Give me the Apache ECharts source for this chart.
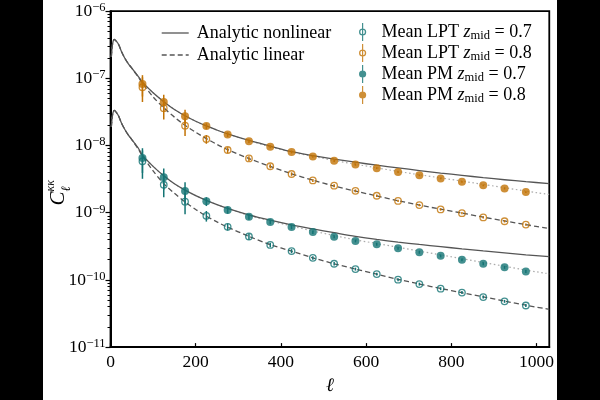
<!DOCTYPE html>
<html><head><meta charset="utf-8">
<script src="https://cdn.jsdelivr.net/npm/echarts@6/dist/echarts.min.js"></script>
<style>
html,body{margin:0;padding:0;background:#000;width:600px;height:400px;overflow:hidden}
#c{position:absolute;left:43px;top:0;width:514px;height:400px;background:#fff}
</style>
</head><body><div id="c"></div>
<script>
// ---- data ----
const ell = [75,125,175,225,275,325,375,425,475,525,575,625,675,725,775,825,875,925,975];
const pmZ08  = [8.27e-8,4.44e-8,2.73e-8,1.95e-8,1.46e-8,1.16e-8,9.6e-9,8.04e-9,6.87e-9,5.95e-9,5.21e-9,4.61e-9,4.03e-9,3.61e-9,3.24e-9,2.89e-9,2.56e-9,2.29e-9,2.03e-9];
const lptZ08 = [7.41e-8,3.60e-8,1.98e-8,1.25e-8,8.59e-9,6.43e-9,4.92e-9,3.77e-9,3.03e-9,2.53e-9,2.12e-9,1.79e-9,1.50e-9,1.30e-9,1.12e-9,9.85e-10,8.53e-10,7.47e-10,6.67e-10];
const pmZ07  = [6.52e-9,3.38e-9,2.10e-9,1.48e-9,1.10e-9,8.71e-10,7.30e-10,6.12e-10,5.15e-10,4.39e-10,3.81e-10,3.40e-10,2.97e-10,2.58e-10,2.28e-10,1.99e-10,1.74e-10,1.54e-10,1.34e-10];
const lptZ07 = [5.82e-9,2.61e-9,1.46e-9,9.0e-10,6.18e-10,4.43e-10,3.32e-10,2.69e-10,2.13e-10,1.74e-10,1.45e-10,1.22e-10,1.01e-10,8.67e-11,7.41e-11,6.49e-11,5.56e-11,4.80e-11,4.16e-11];
// relative 1-sigma errors
const errPmZ08  = [0.35,0.28,0.25,0.10,0.08,0.06,0.05,0.05,0.04,0.04,0.04,0.03,0.03,0.03,0.03,0.03,0.03,0.03,0.03];
const errLptZ08 = [0.40,0.32,0.30,0.15,0.10,0.08,0.07,0.06,0.05,0.05,0.05,0.04,0.04,0.04,0.04,0.04,0.04,0.04,0.04];
const errPmZ07  = [0.40,0.35,0.35,0.15,0.12,0.10,0.08,0.07,0.06,0.05,0.05,0.05,0.05,0.05,0.05,0.05,0.05,0.05,0.05];
const errLptZ07 = [0.45,0.35,0.35,0.18,0.12,0.10,0.08,0.07,0.06,0.06,0.05,0.05,0.05,0.05,0.05,0.05,0.05,0.05,0.05];

const thEll = [2,5,9,14,19,26,34,42,50,65,75,100,125,150,175,200,225,250,275,325,375,425,475,525,575,625,675,725,775,825,875,925,975,1030];
const nonlinZ08 = [2.1e-7,3.3e-7,3.8e-7,3.55e-7,3.2e-7,2.5e-7,1.98e-7,1.65e-7,1.42e-7,1.07e-7,8.8e-8,6.1e-8,4.5e-8,3.45e-8,2.78e-8,2.3e-8,1.96e-8,1.7e-8,1.49e-8,1.19e-8,9.8e-9,8.1e-9,7.1e-9,6.3e-9,5.65e-9,5.1e-9,4.65e-9,4.25e-9,3.9e-9,3.6e-9,3.33e-9,3.1e-9,2.9e-9,2.72e-9];
const linZ08    = [2.1e-7,3.3e-7,3.8e-7,3.55e-7,3.2e-7,2.5e-7,1.98e-7,1.65e-7,1.42e-7,1.05e-7,8.5e-8,5.3e-8,3.65e-8,2.65e-8,2.0e-8,1.58e-8,1.27e-8,1.04e-8,8.7e-9,6.4e-9,4.9e-9,3.8e-9,3.05e-9,2.5e-9,2.1e-9,1.78e-9,1.51e-9,1.3e-9,1.13e-9,9.9e-10,8.6e-10,7.55e-10,6.65e-10,5.8e-10];
const dotZ08    = [2.1e-7,3.3e-7,3.8e-7,3.55e-7,3.2e-7,2.5e-7,1.98e-7,1.65e-7,1.42e-7,1.07e-7,8.8e-8,6.1e-8,4.5e-8,3.45e-8,2.78e-8,2.3e-8,1.96e-8,1.7e-8,1.49e-8,1.18e-8,9.6e-9,8.0e-9,6.9e-9,6.0e-9,5.28e-9,4.67e-9,4.12e-9,3.68e-9,3.3e-9,2.96e-9,2.64e-9,2.36e-9,2.1e-9,1.87e-9];
const nonlinZ07 = [1.9e-8,2.9e-8,3.33e-8,3.1e-8,2.75e-8,2.15e-8,1.72e-8,1.43e-8,1.23e-8,9.2e-9,7.2e-9,4.9e-9,3.55e-9,2.7e-9,2.17e-9,1.8e-9,1.53e-9,1.32e-9,1.16e-9,9.3e-10,7.75e-10,6.6e-10,5.75e-10,5.05e-10,4.45e-10,4.0e-10,3.65e-10,3.37e-10,3.13e-10,2.9e-10,2.7e-10,2.52e-10,2.36e-10,2.22e-10];
const linZ07    = [1.9e-8,2.9e-8,3.33e-8,3.1e-8,2.75e-8,2.15e-8,1.72e-8,1.43e-8,1.23e-8,8.9e-9,7.0e-9,4.2e-9,2.7e-9,1.95e-9,1.45e-9,1.12e-9,8.9e-10,7.3e-10,6.1e-10,4.45e-10,3.35e-10,2.68e-10,2.13e-10,1.74e-10,1.45e-10,1.22e-10,1.02e-10,8.7e-11,7.45e-11,6.45e-11,5.6e-11,4.85e-11,4.2e-11,3.65e-11];
const dotZ07    = [1.9e-8,2.9e-8,3.33e-8,3.1e-8,2.75e-8,2.15e-8,1.72e-8,1.43e-8,1.23e-8,9.2e-9,7.2e-9,4.9e-9,3.55e-9,2.7e-9,2.17e-9,1.8e-9,1.53e-9,1.32e-9,1.16e-9,9.1e-10,7.55e-10,6.35e-10,5.35e-10,4.58e-10,3.95e-10,3.48e-10,3.06e-10,2.68e-10,2.36e-10,2.07e-10,1.82e-10,1.6e-10,1.4e-10,1.23e-10];

const xTicks = [0,200,400,600,800,1000];
const yMinorTicks = [];
for (let d = -11; d <= -7; d++) for (let k = 2; k <= 9; k++) yMinorTicks.push(k * Math.pow(10, d));

// ---- styles ----
const ORANGE = '#c27305';
const TEAL = '#147474';
const GRAY = '#555555';
const SERIF = '"Liberation Serif", "DejaVu Serif", serif';

const pairs = (xs, ys) => xs.map((x, i) => [x, ys[i]]);
const bars = (xs, ys, rel) => xs.map((x, i) => [x, ys[i] * (1 - rel[i]), ys[i] * (1 + rel[i])]);

function errSeries(data, color) {
  return {
    type: 'custom', name: 'err', silent: true, z: 3,
    data: data, encode: { x: 0, y: [1, 2] },
    renderItem: (params, api) => {
      const x = api.value(0);
      const a = api.coord([x, api.value(1)]);
      const b = api.coord([x, api.value(2)]);
      return { type: 'line', shape: { x1: a[0], y1: a[1], x2: b[0], y2: b[1] },
               style: { stroke: color, lineWidth: 1.5 } };
    }
  };
}
function lineSeries(name, ys, style, z) {
  return { type: 'line', name: name, data: pairs(thEll, ys), symbol: 'none', showSymbol: false,
           smooth: 0.3, lineStyle: style, itemStyle: { color: style.color }, z: z, silent: true };
}

const solid = { color: GRAY, width: 1.3, type: 'solid' };
const dashed = { color: GRAY, width: 1.3, type: [5, 3] };
const dotted = { color: '#aaaaaa', width: 1.2, type: [1.5, 2.5] };

const iconFilled = 'path://M4.4,0 L5.6,0 L5.6,18 L4.4,18 Z M5,5.4 A3.6,3.6 0 1 1 5,12.6 A3.6,3.6 0 1 1 5,5.4 Z';
const iconOpen = 'path://M4.4,0 L5.6,0 L5.6,18 L4.4,18 Z M5,5.4 A3.6,3.6 0 1 1 5,12.6 A3.6,3.6 0 1 1 5,5.4 Z M5,6.7 A2.3,2.3 0 1 0 5,11.3 A2.3,2.3 0 1 0 5,6.7 Z';
const iconSolid = 'path://M0,0 L27,0 L27,1.3 L0,1.3 Z';
const iconDashed = 'path://M0,0 L5,0 L5,1.3 L0,1.3 Z M8,0 L13,0 L13,1.3 L8,1.3 Z M16,0 L21,0 L21,1.3 L16,1.3 Z M24,0 L27,0 L27,1.3 L24,1.3 Z';

const legendText = {
  LPT07: '{n|Mean LPT }{z|z}{s|mid}{n| = 0.7}',
  LPT08: '{n|Mean LPT }{z|z}{s|mid}{n| = 0.8}',
  PM07: '{n|Mean PM }{z|z}{s|mid}{n| = 0.7}',
  PM08: '{n|Mean PM }{z|z}{s|mid}{n| = 0.8}'
};
const rich = {
  n: { fontFamily: SERIF, fontSize: 18, lineHeight: 20, color: '#000' },
  z: { fontFamily: SERIF, fontStyle: 'italic', fontSize: 18, lineHeight: 20, color: '#000' },
  s: { fontFamily: SERIF, fontSize: 12.5, lineHeight: 11, verticalAlign: 'bottom', color: '#000' }
};

const chart = echarts.init(document.getElementById('c'), null, { renderer: 'canvas' });
chart.setOption({
  animation: false,
  backgroundColor: '#fff',
  grid: { left: 67.5, right: 4.5, top: 11.2, bottom: 43.2, show: true, borderColor: '#000', borderWidth: 1.8 },
  xAxis: {
    type: 'value', min: 0, max: 1030, interval: 200,
    name: 'ℓ', nameLocation: 'middle', nameGap: 20,
    nameTextStyle: { fontFamily: SERIF, fontStyle: 'italic', fontSize: 19, color: '#000' },
    axisLine: { show: true, lineStyle: { color: '#000', width: 2 } },
    axisTick: { show: true, inside: true, length: 4, lineStyle: { color: '#000', width: 1.2 } },
    axisLabel: { fontFamily: SERIF, fontSize: 17.5, color: '#000', margin: 6, showMaxLabel: false,
      formatter: v => (xTicks.indexOf(v) >= 0 ? String(v) : '') },
    splitLine: { show: false }
  },
  yAxis: [{
    type: 'log', logBase: 10, min: 1e-11, max: 1e-6, splitNumber: 5,
    axisLine: { show: true, lineStyle: { color: '#000', width: 2 } },
    axisTick: { show: true, inside: false, length: 5, lineStyle: { color: '#000', width: 1.2 } },
    splitLine: { show: false },
    axisLabel: {
      margin: 5, color: '#000',
      formatter: v => '{b|10}{e|\u2212' + Math.round(-Math.log10(v)) + '}',
      rich: {
        b: { fontFamily: SERIF, fontSize: 17.5, lineHeight: 20, color: '#000' },
        e: { fontFamily: SERIF, fontSize: 12.5, lineHeight: 12, verticalAlign: 'top', color: '#000' }
      }
    }
  }, {
    type: 'log', logBase: 10, min: 1e-11, max: 1e-6, position: 'left',
    axisLine: { show: false },
    axisTick: { show: true, inside: false, length: 3, customValues: yMinorTicks, lineStyle: { color: '#000', width: 1 } },
    axisLabel: { show: false },
    splitLine: { show: false }
  }],
  legend: [{
    orient: 'vertical', left: 118.7, top: 23, padding: 0, itemGap: 2,
    itemWidth: 27, itemHeight: 14,
    data: [
      { name: 'Analytic nonlinear', icon: iconSolid, itemStyle: { color: GRAY, borderWidth: 0 } },
      { name: 'Analytic linear', icon: iconDashed, itemStyle: { color: GRAY, borderWidth: 0 } }
    ],
    textStyle: { fontFamily: SERIF, fontSize: 18, lineHeight: 20, color: '#000', padding: [0, 0, 0, 3] },
    selectedMode: false
  }, {
    orient: 'vertical', left: 316, top: 23, padding: 0, itemGap: 2,
    itemWidth: 10, itemHeight: 18,
    data: [
      { name: 'LPT07', icon: iconOpen, itemStyle: { color: TEAL, borderWidth: 0 } },
      { name: 'LPT08', icon: iconOpen, itemStyle: { color: ORANGE, borderWidth: 0 } },
      { name: 'PM07', icon: iconFilled, itemStyle: { color: TEAL, borderWidth: 0 } },
      { name: 'PM08', icon: iconFilled, itemStyle: { color: ORANGE, borderWidth: 0 } }
    ],
    formatter: name => legendText[name],
    textStyle: { rich: rich, padding: [0, 0, 0, 9] },
    selectedMode: false
  }],
  graphic: [{
    type: 'group', left: 2, top: 180, rotation: Math.PI / 2,
    children: [
      { type: 'text', x: 0, y: 0, style: { text: 'C', font: 'italic 21px ' + SERIF, fill: '#000' } },
      { type: 'text', x: 14, y: -3, style: { text: 'κκ', font: 'italic 12px ' + SERIF, fill: '#000' } },
      { type: 'text', x: 14, y: 12, style: { text: 'ℓ', font: 'italic 13px ' + SERIF, fill: '#000' } }
    ]
  }],
  series: [
    lineSeries('dotted', dotZ08, dotted, 1),
    lineSeries('dotted', dotZ07, dotted, 1),
    lineSeries('Analytic nonlinear', nonlinZ08, solid, 2),
    lineSeries('Analytic nonlinear', nonlinZ07, solid, 2),
    lineSeries('Analytic linear', linZ08, dashed, 2),
    lineSeries('Analytic linear', linZ07, dashed, 2),
    errSeries(bars(ell, lptZ07, errLptZ07), TEAL),
    errSeries(bars(ell, lptZ08, errLptZ08), ORANGE),
    errSeries(bars(ell, pmZ07, errPmZ07), TEAL),
    errSeries(bars(ell, pmZ08, errPmZ08), ORANGE),
    { type: 'scatter', name: 'LPT07', data: pairs(ell, lptZ07), symbol: 'circle', symbolSize: 6.5, z: 4,
      itemStyle: { color: 'rgba(0,0,0,0)', borderColor: TEAL, borderWidth: 1.3 } },
    { type: 'scatter', name: 'LPT08', data: pairs(ell, lptZ08), symbol: 'circle', symbolSize: 6.5, z: 4,
      itemStyle: { color: 'rgba(0,0,0,0)', borderColor: ORANGE, borderWidth: 1.3 } },
    { type: 'scatter', name: 'PM07', data: pairs(ell, pmZ07), symbol: 'circle', symbolSize: 8, z: 4,
      itemStyle: { color: TEAL } },
    { type: 'scatter', name: 'PM08', data: pairs(ell, pmZ08), symbol: 'circle', symbolSize: 8, z: 4,
      itemStyle: { color: ORANGE } }
  ]
});
</script></body></html>
